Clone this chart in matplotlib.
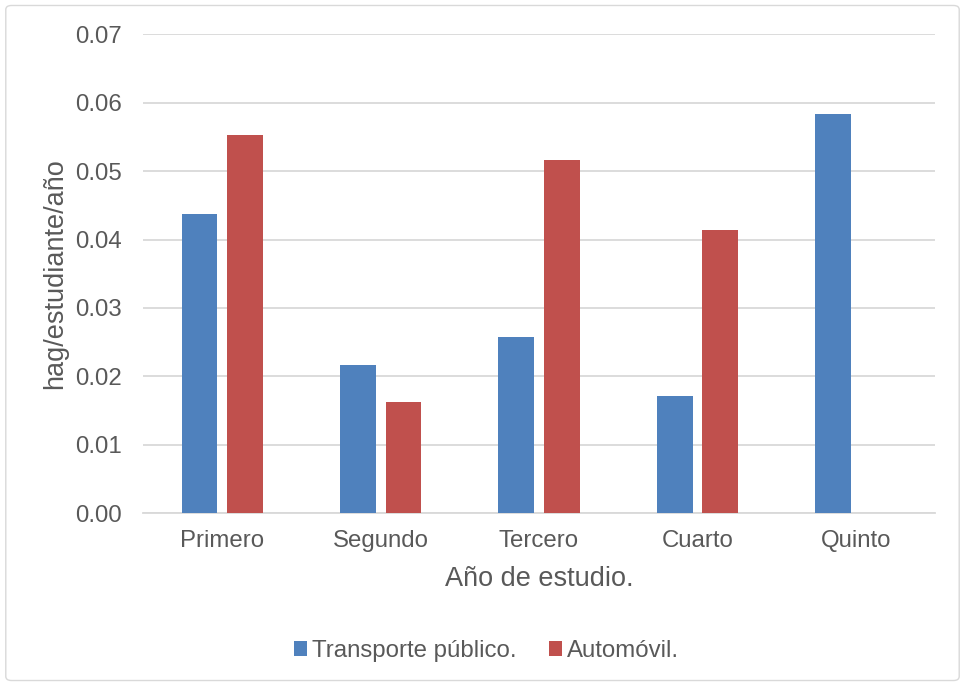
import matplotlib
matplotlib.use("Agg")
import matplotlib.pyplot as plt
from matplotlib.patches import FancyBboxPatch, Patch
import numpy as np

categories = ["Primero", "Segundo", "Tercero", "Cuarto", "Quinto"]
transporte_publico = [0.0437, 0.0217, 0.0258, 0.0171, 0.0583]
automovil = [0.0552, 0.0163, 0.0516, 0.0414, 0.0]
series_names = ["Transporte público.", "Automóvil."]
y_ticks = [0.00, 0.01, 0.02, 0.03, 0.04, 0.05, 0.06, 0.07]

plt.rcParams["font.family"] = ["Liberation Sans", "DejaVu Sans"]
text_color = "#595959"
blue = "#4F81BD"
red = "#C0504D"
grid_color = "#D9D9D9"

fig = plt.figure(figsize=(9.65, 6.86), dpi=100)
fig.patch.set_facecolor("white")

# chart frame, kept behind the axes
frame = FancyBboxPatch((0.006, 0.008), 0.988, 0.984,
                       boxstyle="round,pad=0,rounding_size=0.006",
                       transform=fig.transFigure, facecolor="white",
                       edgecolor="#D9D9D9", linewidth=1.0, zorder=-10)
fig.patches.append(frame)

ax = fig.add_axes([0.1482, 0.2515, 0.8208, 0.6989])
ax.set_facecolor("none")
x = np.arange(len(categories))
w = 0.225
off = 0.1435
ax.bar(x - off, transporte_publico, w, color=blue, zorder=3)
ax.bar(x + off, automovil, w, color=red, zorder=3)

ax.set_xlim(-0.5, len(categories) - 0.5)
ax.set_ylim(0, 0.07)
ax.set_yticks(y_ticks)
ax.set_yticklabels([f"{v:.2f}" for v in y_ticks])
ax.set_xticks(x)
ax.set_xticklabels(categories)
ax.yaxis.grid(True, color=grid_color, linewidth=1.3, zorder=0)
ax.set_axisbelow(True)
for s in ["top", "right", "left"]:
    ax.spines[s].set_visible(False)
ax.spines["bottom"].set_color(grid_color)
ax.spines["bottom"].set_linewidth(1.3)
ax.tick_params(axis="both", length=0, labelsize=17.3, colors=text_color)
ax.tick_params(axis="y", pad=15.5)
ax.tick_params(axis="x", pad=12)

ax.set_xlabel("Año de estudio.", fontsize=19.5, color=text_color, labelpad=10)
ax.set_ylabel("hag/estudiante/año", fontsize=19.5, color=text_color, labelpad=5)

handles = [Patch(facecolor=blue), Patch(facecolor=red)]
fig.legend(handles, series_names, loc="center", bbox_to_anchor=(0.504, 0.051),
           ncol=2, frameon=False, fontsize=17.3, labelcolor=text_color,
           handlelength=0.55, handleheight=0.55, handletextpad=0.2,
           columnspacing=1.35)

fig.savefig("out.png", dpi=100)
